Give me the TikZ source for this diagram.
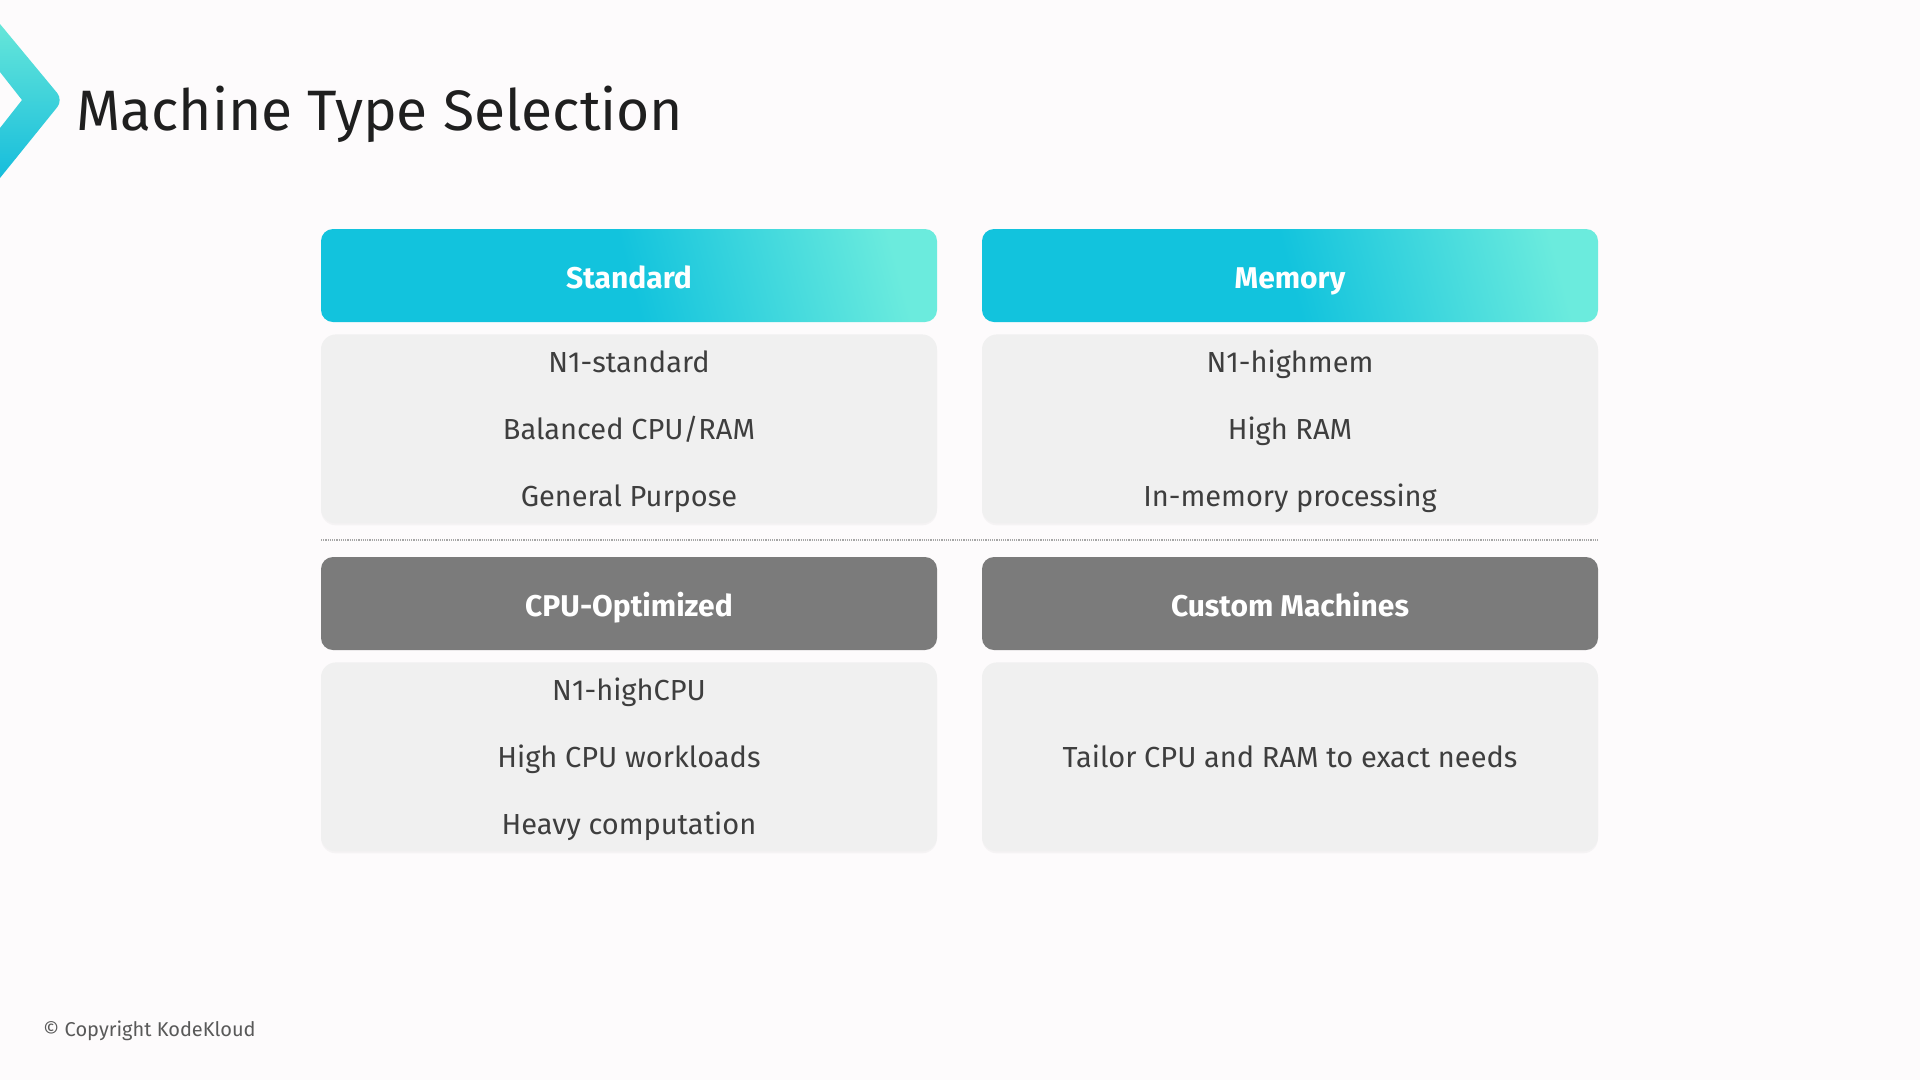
\documentclass[tikz,border=0pt]{standalone}
\usepackage{fontspec}
\setmainfont{Fira Sans}
\usetikzlibrary{positioning,shadows}
\definecolor{bgpage}{HTML}{FDFBFC}
\definecolor{cyanhead}{HTML}{12C3DD}
\definecolor{aquahead}{HTML}{6BEBDD}
\definecolor{greyhead}{HTML}{7B7B7B}
\definecolor{bodyfill}{HTML}{F0F0F0}
\definecolor{bodytext}{HTML}{3E3E3E}
\definecolor{titletext}{HTML}{1F1F1F}
\definecolor{logotop}{HTML}{66E6D9}
\definecolor{logobot}{HTML}{16BDDC}
\pgfdeclarehorizontalshading{headshade}{100bp}{color(0bp)=(cyanhead); color(25bp)=(cyanhead);
 color(50bp)=(cyanhead); color(76bp)=(aquahead); color(100bp)=(aquahead)}
\tikzset{
 head/.style={rounded corners=12pt,minimum width=616pt,minimum height=93pt,inner sep=0pt,
  text height=32pt,text depth=7pt,text=white,font=\fontsize{30}{36}\selectfont\bfseries},
 cyanbox/.style={head,shading=headshade,shading angle=15},
 greybox/.style={head,fill=greyhead},
 panel/.style={rounded corners=15pt,fill=bodyfill,minimum width=616pt,minimum height=189pt,
  inner sep=0pt,drop shadow={opacity=0.06,shadow xshift=0pt,shadow yshift=-2pt}},
 entry/.style={inner sep=0pt,text height=27pt,text depth=6pt,text=bodytext,
  font=\fontsize{29}{34}\selectfont},
 sepline/.style={densely dotted,line width=1.2pt,draw=black!35},
}
\begin{document}
\begin{tikzpicture}[x=1pt,y=-1pt]
 % page
 \fill[bgpage] (0,0) rectangle (1920,1080);
 \useasboundingbox (0,0) rectangle (1920,1080);
 % logo and title
 \shade[top color=logotop,bottom color=logobot]
  (0,24) [rounded corners=9pt]-- (63,100) [sharp corners]-- (0,178) -- (0,128) -- (22,100) -- (0,72) -- cycle;
 \node[anchor=west,inner sep=0pt,text=titletext,font=\fontsize{57}{64}\selectfont] (title) at (76,114) {Machine Type Selection};
 % upper row
 \node[cyanbox] (stdhead) at (629,275.5) {Standard};
 \node[cyanbox] (memhead) at (1290,275.5) {Memory};
 \node[panel,below=12pt of stdhead] (stdbody) {};
 \node[panel,below=12pt of memhead] (membody) {};
 \node[entry] (std1) at (stdbody) [yshift=67pt] {N1-standard};
 \node[entry] (std2) at (stdbody) {Balanced CPU/RAM};
 \node[entry] (std3) at (stdbody) [yshift=-67pt] {General Purpose};
 \node[entry] (mem1) at (membody) [yshift=67pt] {N1-highmem};
 \node[entry] (mem2) at (membody) {High RAM};
 \node[entry] (mem3) at (membody) [yshift=-67pt] {In-memory processing};
 % separator
 \coordinate (sepl) at (321,540);
 \coordinate (sepr) at (1598,540);
 \draw[sepline] (sepl) -- (sepr);
 % lower row
 \node[greybox] (cpuhead) at (629,603.5) {CPU-Optimized};
 \node[greybox] (cushead) at (1290,603.5) {Custom Machines};
 \node[panel,below=12pt of cpuhead] (cpubody) {};
 \node[panel,below=12pt of cushead] (cusbody) {};
 \node[entry] (cpu1) at (cpubody) [yshift=67pt] {N1-highCPU};
 \node[entry] (cpu2) at (cpubody) {High CPU workloads};
 \node[entry] (cpu3) at (cpubody) [yshift=-67pt] {Heavy computation};
 \node[entry] (cus1) at (cusbody) {Tailor CPU and RAM to exact needs};
 % footer
 \node[anchor=west,inner sep=0pt,text=black!65,font=\fontsize{20}{24}\selectfont] (copy) at (43,1031) {© Copyright KodeKloud};
\end{tikzpicture}
\end{document}
